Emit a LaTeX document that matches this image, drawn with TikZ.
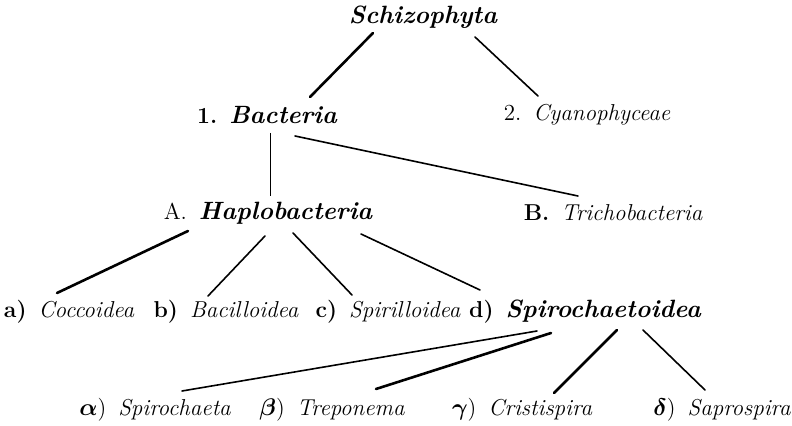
\documentclass[tikz,border=0pt]{standalone}
\usepackage{amsmath}
\usetikzlibrary{calc}
\tikzset{taxon/.style={inner sep=1pt,font=\fontsize{11.5}{13}\selectfont\itshape},chief/.style={taxon,font=\fontsize{12.5}{14}\selectfont\bfseries\itshape},branch/.style={draw=black,line width=0.8pt,line cap=round},heavybranch/.style={draw=black,line width=1.3pt,line cap=round},faintbranch/.style={draw=black,line width=0.35pt}}
\newcommand{\lbl}[1]{\textup{\bfseries\fontsize{11.5}{13}\selectfont #1}\hspace{6pt}}
\newcommand{\plainlbl}[1]{\textup{\mdseries\fontsize{11.5}{13}\selectfont #1}\hspace{6pt}}
\newcommand{\greeklbl}[1]{$\boldsymbol{#1}$\textup{)}\hspace{6pt}}

\begin{document}
\begin{tikzpicture}[x=0.5pt,y=-0.5pt]
\useasboundingbox (0,0) rectangle (792,426);
\node[chief] (schiz) at (423,17) {Schizophyta};
\node[chief] (bact) at (267,115) {\lbl{1.}Bacteria};
\node[taxon] (cyan) at (587,115) {\plainlbl{2.}Cyanophyceae};
\node[chief] (haplo) at (268,213) {\plainlbl{A.}Haplobacteria};
\node[taxon] (tricho) at (613,213) {\lbl{B.}Trichobacteria};
\node[taxon] (cocc) at (69,312) {\lbl{a)}Coccoidea};
\node[taxon] (bacil) at (226,312) {\lbl{b)}Bacilloidea};
\node[taxon] (spirill) at (388,312) {\lbl{c)}Spirilloidea};
\node[chief] (spiroch) at (585,312) {\lbl{d)}Spirochaetoidea};
\node[taxon] (spirochaeta) at (155,410) {\greeklbl{\alpha}Spirochaeta};
\node[taxon] (trep) at (332,410) {\greeklbl{\beta}Treponema};
\node[taxon] (crist) at (522,410) {\greeklbl{\gamma}Cristispira};
\node[taxon] (sapro) at (722,410) {\greeklbl{\delta}Saprospira};
\draw[heavybranch] ($(schiz)+(-50,16)$) -- ($(bact)+(43,-18)$);
\draw[branch] ($(schiz)+(52,20)$) -- ($(cyan)+(-49,-19)$);
\draw[faintbranch] ($(bact)+(3,18)$) -- ($(haplo)+(2,-17)$);
\draw[branch] ($(bact)+(28,21)$) -- ($(tricho)+(-35,-17)$);
\draw[heavybranch] ($(haplo)+(-80,18)$) -- ($(cocc)+(-12,-19)$);
\draw[branch] ($(haplo)+(-3,23)$) -- ($(bacil)+(-18,-16)$);
\draw[branch] ($(haplo)+(25,20)$) -- ($(spirill)+(-36,-17)$);
\draw[branch] ($(haplo)+(93,21)$) -- ($(spiroch)+(-105,-22)$);
\draw[branch] ($(spiroch)+(-48,19)$) -- ($(spirochaeta)+(27,-19)$);
\draw[heavybranch] ($(spiroch)+(-34,21)$) -- ($(trep)+(44,-21)$);
\draw[heavybranch] ($(spiroch)+(32,18)$) -- ($(crist)+(32,-17)$);
\draw[branch] ($(spiroch)+(58,18)$) -- ($(sapro)+(-17,-20)$);
\end{tikzpicture}
\end{document}
